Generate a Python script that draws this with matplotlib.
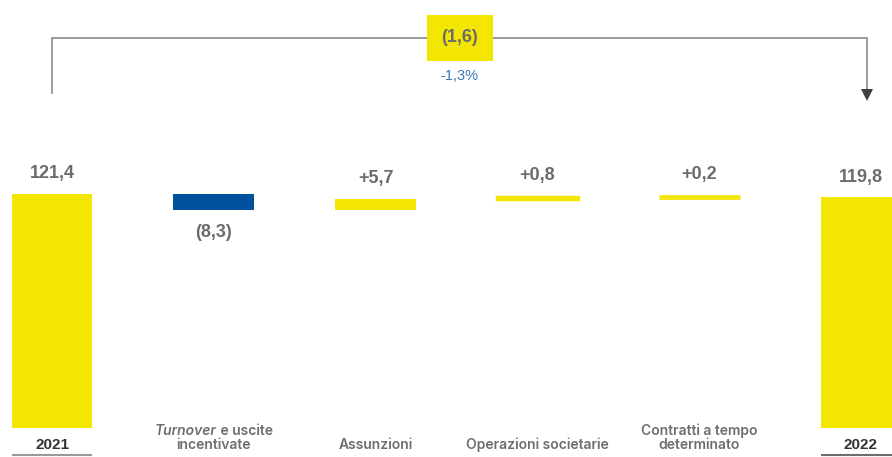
import matplotlib
matplotlib.use('Agg')
import matplotlib.pyplot as plt
from matplotlib.transforms import blended_transform_factory
from matplotlib.offsetbox import TextArea, HPacker, VPacker, AnnotationBbox

# ---------------- data ----------------
categories = ['2021', 'Turnover e uscite incentivate', 'Assunzioni',
              'Operazioni societarie', 'Contratti a tempo determinato', '2022']
start_value = 121.4
deltas = [-8.3, 5.7, 0.8, 0.2]
end_value = 119.8
value_labels = ['121,4', '(8,3)', '+5,7', '+0,8', '+0,2', '119,8']
total_change_label = '(1,6)'
pct_change_label = '-1,3%'

# ---------------- style ----------------
YELLOW = '#F3E600'
BLUE = '#00529F'
VAL_GRAY = '#6B6B6B'
CAT_GRAY = '#6E6E6E'
DARK = '#333333'
LINE_GRAY = '#8A8A8A'
BASE = 'Liberation Sans'
CAT_FONT = 'Inter'
plt.rcParams['font.family'] = [BASE, 'DejaVu Sans']

fig = plt.figure(figsize=(8.92, 4.57), dpi=100)
ax = fig.add_axes([0, 0, 1, 1])
ax.set_xlim(-0.3214, 5.1916)
ax.set_ylim(-15.04, 222.0)
ax.axis('off')

px_per_unit = ax.transData.transform((0, 1))[1] - ax.transData.transform((0, 0))[1]
W = 0.5
bx = blended_transform_factory(ax.transData, ax.transAxes)

# totals
n = len(categories)
ax.bar(0, start_value, width=W, color=YELLOW, lw=0)
ax.bar(n - 1, end_value, width=W, color=YELLOW, lw=0)
ax.annotate(value_labels[0], (0, start_value), xytext=(0, 20), textcoords='offset pixels',
            ha='center', va='center', fontsize=13, fontweight='bold', color=VAL_GRAY)
ax.annotate(value_labels[-1], (n - 1, end_value), xytext=(0, 20), textcoords='offset pixels',
            ha='center', va='center', fontsize=13, fontweight='bold', color=VAL_GRAY)

# steps
cum = start_value
for i, d in enumerate(deltas, start=1):
    bottom = cum if d > 0 else cum + d
    h = abs(d)
    col = YELLOW if d > 0 else BLUE
    thick = h * px_per_unit
    extra_px = max(0.0, 5.0 - thick)
    ax.bar(i, h, bottom=bottom, width=W, color=col,
           edgecolor=col, lw=extra_px * 72 / 100, joinstyle='miter')
    if d > 0:
        ax.annotate(value_labels[i], (i, bottom + h), xytext=(0, 20 + extra_px / 2),
                    textcoords='offset pixels', ha='center', va='center',
                    fontsize=13, fontweight='bold', color=VAL_GRAY)
    else:
        ax.annotate(value_labels[i], (i, bottom), xytext=(0, -23 - extra_px / 2),
                    textcoords='offset pixels', ha='center', va='center',
                    fontsize=13, fontweight='bold', color=VAL_GRAY)
    cum += d

# category labels
def label_box(i, lines, bold=False, italic_first_word=False):
    if bold:
        props = dict(color=DARK, fontsize=11, fontfamily=BASE, fontweight='bold')
    else:
        props = dict(color=CAT_GRAY, fontsize=10, fontfamily=CAT_FONT, fontweight=600)
    children = []
    for k, line in enumerate(lines):
        if italic_first_word and k == 0:
            first, rest = line.split(' ', 1)
            children.append(HPacker(children=[
                TextArea(first, textprops=dict(props, fontstyle='italic')),
                TextArea(' ' + rest, textprops=props)], pad=0, sep=0, align='baseline'))
        else:
            children.append(TextArea(line, textprops=props))
    box = VPacker(children=children, align='center', pad=0, sep=0)
    ab = AnnotationBbox(box, (i, (457 - 452) / 457), xycoords=bx,
                        box_alignment=(0.5, 0), frameon=False, pad=0)
    ax.add_artist(ab)

label_box(0, [categories[0]], bold=True)
label_box(1, ['Turnover e uscite', 'incentivate'], italic_first_word=True)
label_box(2, [categories[2]])
label_box(3, [categories[3]])
label_box(4, ['Contratti a tempo', 'determinato'])
label_box(5, [categories[5]], bold=True)

# underlines for totals
uy = 1 - 455 / 457
ax.plot([0 - W / 2, 0 + W / 2], [uy, uy], transform=bx, color='#9A9A9A', lw=1.5,
        solid_capstyle='butt', clip_on=False)
ax.plot([n - 1 - W / 2, n - 1 + W / 2], [uy, uy], transform=bx, color='#6E6E6E', lw=1.5,
        solid_capstyle='butt', clip_on=False)

# bracket
xl, xr = 0.0, n - 1 + 0.04
ytop = 1 - 38 / 457
yleft = 1 - 93 / 457
ytip = 1 - 99 / 457
ax.plot([xl, xl, xr, xr], [yleft, ytop, ytop, ytip + 0.012], transform=bx,
        color=LINE_GRAY, lw=1.2, solid_joinstyle='miter')
ax.plot([xr], [ytip + 0.009], transform=bx, marker='v', markersize=8,
        color='#404040', markeredgewidth=0)
xm = (xl + xr) / 2
ax.text(xm, ytop, total_change_label, transform=bx, ha='center', va='center',
        fontsize=13, fontweight='bold', color=VAL_GRAY,
        bbox=dict(boxstyle='square,pad=0.8', fc=YELLOW, ec='none'))
ax.text(xm, 1 - 76 / 457, pct_change_label, transform=bx, ha='center', va='center',
        fontsize=10.5, color='#3B78B8')

fig.savefig('out.png', dpi=100)
